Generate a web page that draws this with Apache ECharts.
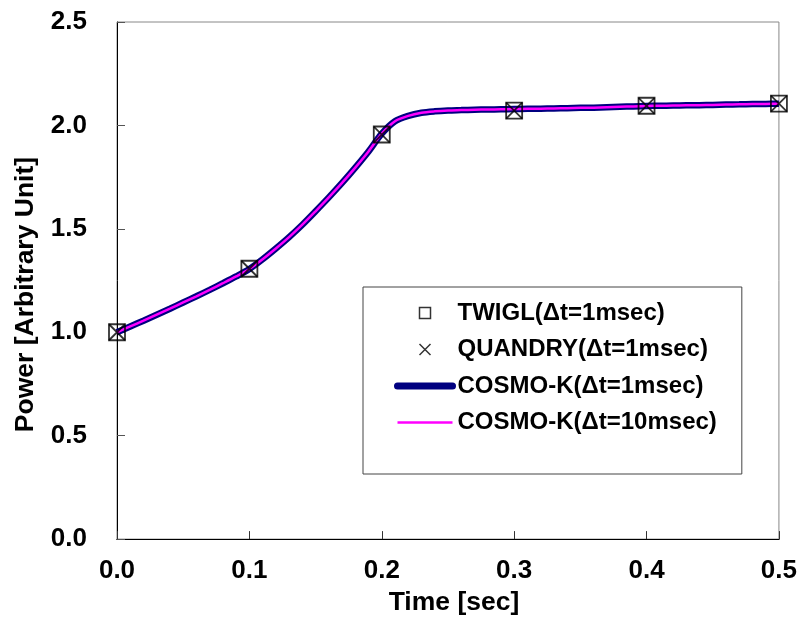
<!DOCTYPE html>
<html>
<head>
<meta charset="utf-8">
<script src="https://cdn.jsdelivr.net/npm/echarts@6/dist/echarts.min.js"></script>
<style>
html,body{margin:0;padding:0;background:#fff;}
#chart{width:800px;height:621px;}
</style>
</head>
<body>
<div id="chart"></div>
<script>
// ---- Data ----
var markerTimes = [0.0, 0.1, 0.2, 0.3, 0.4, 0.5];
var twiglPower   = [1.000, 1.307, 1.956, 2.072, 2.095, 2.105];
var quandryPower = [1.000, 1.307, 1.956, 2.072, 2.095, 2.105];

var curveTimes = [0.00,0.01,0.02,0.03,0.04,0.05,0.06,0.07,0.08,0.09,
                  0.10,0.11,0.12,0.13,0.14,0.15,0.16,0.17,0.18,0.19,
                  0.20,0.21,0.22,0.23,0.24,0.25,0.26,0.27,0.28,0.29,
                  0.30,0.31,0.32,0.33,0.34,0.35,0.36,0.37,0.38,0.39,
                  0.40,0.41,0.42,0.43,0.44,0.45,0.46,0.47,0.48,0.49,0.50];
var cosmo1Power = [1.000,1.028,1.056,1.085,1.114,1.144,1.174,1.205,1.237,1.270,
                   1.306,1.353,1.405,1.460,1.520,1.585,1.652,1.722,1.796,1.874,
                   1.960,2.020,2.046,2.061,2.068,2.072,2.074,2.076,2.077,2.078,
                   2.079,2.080,2.081,2.082,2.083,2.085,2.086,2.088,2.090,2.092,
                   2.094,2.095,2.096,2.097,2.098,2.099,2.101,2.102,2.103,2.104,2.105];
var cosmo10Power = [1.000,1.028,1.056,1.085,1.114,1.144,1.174,1.205,1.237,1.270,
                    1.306,1.353,1.405,1.460,1.520,1.585,1.652,1.722,1.796,1.874,
                    1.960,2.020,2.046,2.061,2.068,2.072,2.074,2.076,2.077,2.078,
                    2.079,2.080,2.081,2.082,2.083,2.085,2.086,2.088,2.090,2.092,
                    2.094,2.095,2.096,2.097,2.098,2.099,2.101,2.102,2.103,2.104,2.105];

var seriesNames = ['TWIGL(\u0394t=1msec)', 'QUANDRY(\u0394t=1msec)',
                   'COSMO-K(\u0394t=1msec)', 'COSMO-K(\u0394t=10msec)'];
var xTickLabels = ['0.0','0.1','0.2','0.3','0.4','0.5'];
var xAxisTitle = 'Time [sec]';
var yAxisTitle = 'Power [Arbitrary Unit]';

function pairs(xs, ys) { return xs.map(function (x, i) { return [x, ys[i]]; }); }

var FONT = '"Liberation Sans", Arial, sans-serif';
var squarePath = 'path://M0,0L10,0L10,10L0,10Z';
var crossPath = 'path://M0,0L10,10M10,0L0,10';

var chart = echarts.init(document.getElementById('chart'), null, {renderer: 'canvas'});
chart.setOption({
  animation: false,
  backgroundColor: '#fff',
  grid: {left: 117, top: 22, width: 664, height: 526, show: true,
         borderColor: '#888', borderWidth: 1, backgroundColor: 'transparent'},
  xAxis: [{
    type: 'value', min: 0, max: 0.5, interval: 0.1,
    name: xAxisTitle, nameLocation: 'middle', nameGap: 41,
    nameTextStyle: {fontFamily: FONT, fontWeight: 'bold', fontSize: 26.5, color: '#000',
                    padding: [0, 0, 0, 12]},
    axisLine: {show: true, onZero: false, lineStyle: {color: '#000', width: 1}},
    axisTick: {show: true, inside: true, length: 8, lineStyle: {color: '#333'}},
    axisLabel: {margin: 19, fontFamily: FONT, fontWeight: 'bold', fontSize: 26, color: '#000',
      formatter: function (v) { return xTickLabels[Math.round(v * 10)]; }},
    splitLine: {show: false}
  }, {
    type: 'value', min: 0, max: 0.5, position: 'top',
    axisLine: {show: true, lineStyle: {color: '#000', width: 1}},
    axisTick: {show: false}, axisLabel: {show: false}, splitLine: {show: false}
  }],
  yAxis: {
    type: 'value', min: 0, max: 2.5, interval: 0.5,
    name: yAxisTitle, nameLocation: 'middle', nameGap: 78, nameRotate: 90,
    nameTextStyle: {fontFamily: FONT, fontWeight: 'bold', fontSize: 26.5, color: '#000',
                    padding: [0, 28, 0, 0]},
    axisLine: {show: true, onZero: false, lineStyle: {color: '#000', width: 1}},
    axisTick: {show: true, inside: true, length: 8, lineStyle: {color: '#555'}},
    axisLabel: {margin: 30, fontFamily: FONT, fontWeight: 'bold', fontSize: 26, color: '#000',
      formatter: function (v) { return v.toFixed(1); }},
    splitLine: {show: false}
  },
  legend: {
    orient: 'vertical', left: 363, top: 287,
    padding: [14, 25, 39.5, 31], itemGap: 12.5,
    itemWidth: 55, itemHeight: 11, symbolKeepAspect: true,
    backgroundColor: '#fff', borderColor: '#444', borderWidth: 1,
    textStyle: {fontFamily: FONT, fontWeight: 'bold', fontSize: 24, color: '#000', lineHeight: 24},
    data: [
      {name: seriesNames[0], icon: squarePath, symbolKeepAspect: true,
       itemStyle: {color: '#fff', borderColor: '#000', borderWidth: 1.5}},
      {name: seriesNames[1], icon: crossPath, symbolKeepAspect: true,
       itemStyle: {color: 'rgba(0,0,0,0)', borderColor: '#000', borderWidth: 1.5}},
      {name: seriesNames[2], itemStyle: {color: 'rgba(0,0,0,0)', borderWidth: 0, opacity: 0},
       lineStyle: {width: 7, color: '#000080', cap: 'round', opacity: 1}},
      {name: seriesNames[3], itemStyle: {color: 'rgba(0,0,0,0)', borderWidth: 0, opacity: 0},
       lineStyle: {width: 2.5, color: '#ff00ff', opacity: 1}}
    ]
  },
  series: [
    {name: seriesNames[2], type: 'line', data: pairs(curveTimes, cosmo1Power),
     symbol: 'none', smooth: 0.3, z: 2,
     itemStyle: {color: '#000080'},
     lineStyle: {color: '#000080', width: 6.5}},
    {name: seriesNames[3], type: 'line', data: pairs(curveTimes, cosmo10Power),
     symbol: 'none', smooth: 0.3, z: 3,
     itemStyle: {color: '#ff00ff'},
     lineStyle: {color: '#ff00ff', width: 2.5}},
    {name: seriesNames[0], type: 'scatter', data: pairs(markerTimes, twiglPower),
     symbol: squarePath, symbolSize: 16, z: 4,
     itemStyle: {color: 'rgba(0,0,0,0)', borderColor: '#000', borderWidth: 1.8}},
    {name: seriesNames[1], type: 'scatter', data: pairs(markerTimes, quandryPower),
     symbol: crossPath, symbolSize: 16, z: 5,
     itemStyle: {color: 'rgba(0,0,0,0)', borderColor: '#000', borderWidth: 1.8}}
  ]
});
</script>
</body>
</html>
